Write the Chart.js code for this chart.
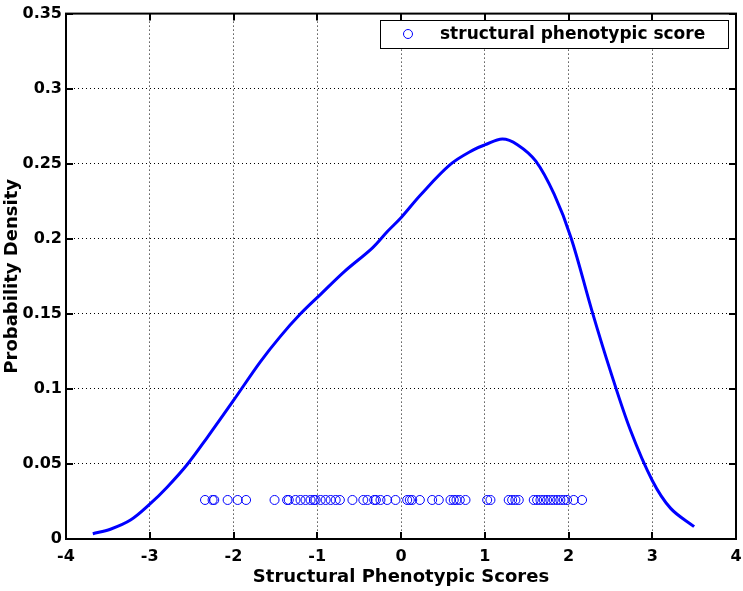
<!DOCTYPE html>
<html><head><meta charset="utf-8">
<script src="https://cdn.jsdelivr.net/npm/chart.js@4.4.0/dist/chart.umd.min.js"></script>
<style>html,body{margin:0;padding:0;background:#fff;overflow:hidden;}</style>
</head><body>
<canvas id="c" width="743" height="591"></canvas>
<script>
// Density curve
const curveX = [-3.68, -3.47, -3.23, -3.0, -2.79, -2.55, -2.31, -2.0, -1.68, -1.44, -1.2, -0.96, -0.68, -0.34, -0.16, 0, 0.23, 0.59, 0.87, 1.0, 1.21, 1.39, 1.61, 1.83, 2.03, 2.28, 2.5, 2.74, 3.0, 3.22, 3.5];
const curveY = [0.0035, 0.0065, 0.0126, 0.0232, 0.0347, 0.0498, 0.0679, 0.0923, 0.118, 0.135, 0.150, 0.163, 0.178, 0.194, 0.205, 0.214, 0.229, 0.2495, 0.2594, 0.2625, 0.2665, 0.2627, 0.2517, 0.2295, 0.2007, 0.152, 0.112, 0.0724, 0.039, 0.0204, 0.0082];
// Individual scores (rug of circles)
const scoreX = [-2.34, -2.25, -2.23, -2.07, -1.95, -1.85,
  -1.51, -1.36, -1.34, -1.26, -1.20, -1.14, -1.08, -1.04, -1.02, -0.96, -0.90, -0.84, -0.78, -0.73, -0.58, -0.45, -0.40, -0.30,
  -0.32, -0.245, -0.165, -0.066, 0.074, 0.105, 0.134, 0.225, 0.372, 0.451, 0.591, 0.630, 0.662, 0.702, 0.770,
  1.029, 1.068, 1.286, 1.327, 1.366, 1.406, 1.585, 1.625, 1.665, 1.704, 1.744, 1.784, 1.823, 1.864, 1.903, 1.943, 1.983, 2.062, 2.162];
const scoreY = 0.026;
const xTickValues = [-4, -3, -2, -1, 0, 1, 2, 3, 4];
const yTickLabels = ['0', '0.05', '0.1', '0.15', '0.2', '0.25', '0.3', '0.35'];
const seriesLabel = 'structural phenotypic score';
const xTitle = 'Structural Phenotypic Scores';
const yTitle = 'Probability Density';

const BLUE = '#0000ff';
const FONT = 'DejaVu Sans';

const framePlugin = {
  id: 'frame',
  afterDatasetsDraw(chart) {
    const {ctx, chartArea: a, scales} = chart;
    ctx.save();
    ctx.strokeStyle = '#000';
    ctx.lineWidth = 2;
    const T = 7;
    ctx.beginPath();
    scales.x.ticks.forEach(t => {
      const px = Math.round(scales.x.getPixelForValue(t.value));
      ctx.moveTo(px, a.bottom); ctx.lineTo(px, a.bottom - T);
      ctx.moveTo(px, a.top); ctx.lineTo(px, a.top + T);
    });
    scales.y.ticks.forEach(t => {
      const py = Math.round(scales.y.getPixelForValue(t.value));
      ctx.moveTo(a.left, py); ctx.lineTo(a.left + T, py);
      ctx.moveTo(a.right, py); ctx.lineTo(a.right - T, py);
    });
    ctx.stroke();
    ctx.strokeRect(a.left, a.top, a.right - a.left, a.bottom - a.top);

    // legend box
    const bx = 380, by = 20, bw = 348, bh = 28;
    ctx.fillStyle = '#fff';
    ctx.fillRect(bx, by, bw, bh);
    ctx.lineWidth = 1;
    ctx.strokeStyle = '#000';
    ctx.strokeRect(bx + 0.5, by + 0.5, bw, bh);
    ctx.strokeStyle = BLUE;
    ctx.beginPath();
    ctx.arc(408, by + bh / 2, 4.5, 0, Math.PI * 2);
    ctx.stroke();
    ctx.fillStyle = '#000';
    ctx.font = 'bold 17px "' + FONT + '"';
    ctx.textBaseline = 'middle';
    ctx.textAlign = 'left';
    ctx.fillText(seriesLabel, 440, by + bh / 2 + 1);
    ctx.restore();
  }
};

new Chart(document.getElementById('c'), {
  type: 'scatter',
  data: {
    datasets: [
      {
        type: 'line',
        label: 'density',
        data: curveX.map((x, i) => ({x: x, y: curveY[i]})),
        borderColor: BLUE,
        borderWidth: 3,
        pointRadius: 0,
        fill: false,
        tension: 0.35
      },
      {
        type: 'scatter',
        label: seriesLabel,
        data: scoreX.map(x => ({x: x, y: scoreY})),
        borderColor: BLUE,
        backgroundColor: 'rgba(0,0,0,0)',
        pointBackgroundColor: 'rgba(0,0,0,0)',
        pointBorderColor: BLUE,
        pointBorderWidth: 1,
        pointRadius: 4.5,
        pointStyle: 'circle'
      }
    ]
  },
  options: {
    responsive: false,
    animation: false,
    layout: {padding: {left: 0, right: 0, top: 12, bottom: 0}},
    plugins: {legend: {display: false}, tooltip: {enabled: false}},
    scales: {
      x: {
        type: 'linear', min: -4, max: 4,
        afterBuildTicks: s => { s.ticks = xTickValues.map(v => ({value: v})); },
        afterFit: s => { s.height = 52; s.paddingRight = 7; },
        ticks: {color: '#000', padding: 8, font: {family: FONT, weight: 'bold', size: 16}, maxRotation: 0,
          callback: v => String(v)},
        grid: {color: '#000', lineWidth: 1, drawTicks: false},
        border: {display: false, dash: [1, 3]},
        title: {display: true, text: xTitle, color: '#000', font: {family: FONT, weight: 'bold', size: 18}, padding: {top: 0, bottom: 3}}
      },
      y: {
        type: 'linear', min: 0, max: 0.35,
        afterBuildTicks: s => { s.ticks = yTickLabels.map(l => ({value: parseFloat(l)})); },
        afterFit: s => { s.width = 66; },
        ticks: {color: '#000', padding: 4, font: {family: FONT, weight: 'bold', size: 16},
          callback: (v, i) => yTickLabels[i]},
        grid: {color: '#000', lineWidth: 1, drawTicks: false},
        border: {display: false, dash: [1, 3]},
        title: {display: true, text: yTitle, color: '#000', font: {family: FONT, weight: 'bold', size: 18}, padding: 2}
      }
    }
  },
  plugins: [framePlugin]
});
</script>
</body></html>
